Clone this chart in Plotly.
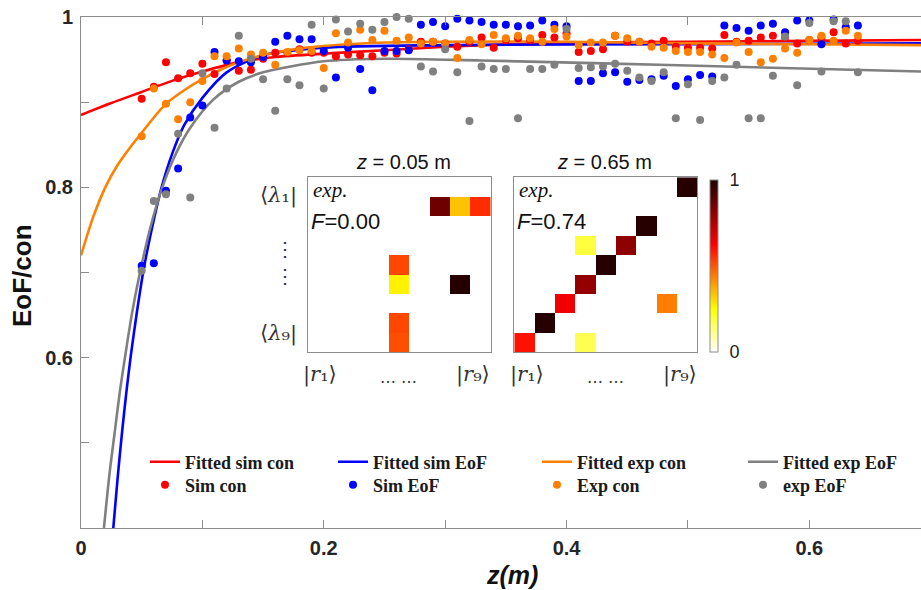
import plotly.graph_objects as go

# ---------------- data ----------------
z = [0.05, 0.06, 0.07, 0.08, 0.09, 0.10, 0.11, 0.12, 0.13, 0.14,
     0.15, 0.16, 0.17, 0.18, 0.19, 0.20, 0.21, 0.22, 0.23, 0.24,
     0.25, 0.26, 0.27, 0.28, 0.29, 0.30, 0.31, 0.32, 0.33, 0.34,
     0.35, 0.36, 0.37, 0.38, 0.39, 0.40, 0.41, 0.42, 0.43, 0.44,
     0.45, 0.46, 0.47, 0.48, 0.49, 0.50, 0.51, 0.52, 0.53, 0.54,
     0.55, 0.56, 0.57, 0.58, 0.59, 0.60, 0.61, 0.62, 0.63, 0.64]

sim_con = [0.904, 0.918, 0.947, 0.928, 0.934, 0.945, 0.933, 0.949, 0.937, 0.938,
           0.951, 0.958, 0.958, 0.962, 0.958, 0.958, 0.954, 0.956, 0.955, 0.954,
           0.958, 0.957, 0.962, 0.971, 0.971, 0.969, 0.965, 0.971, 0.976, 0.964,
           0.973, 0.975, 0.973, 0.979, 0.976, 0.981, 0.959, 0.960, 0.962, 0.978,
           0.971, 0.971, 0.969, 0.972, 0.965, 0.964, 0.964, 0.963, 0.979, 0.971,
           0.972, 0.976, 0.978, 0.976, 0.969, 0.973, 0.976, 0.982, 0.969, 0.972]

sim_eof = [0.708, 0.711, 0.796, 0.822, 0.882, 0.896, 0.959, 0.949, 0.948, 0.947,
           0.953, 0.971, 0.978, 0.974, 0.974, 0.960, 0.929, 0.964, 0.939, 0.914,
           0.960, 0.960, 0.961, 0.991, 0.994, 0.989, 0.998, 0.996, 0.994, 0.991,
           0.991, 0.989, 0.990, 0.996, 0.991, 0.989, 0.925, 0.925, 0.934, 0.935,
           0.924, 0.926, 0.927, 0.931, 0.919, 0.927, 0.932, 0.930, 0.990, 0.987,
           0.984, 0.990, 0.992, 0.982, 0.996, 0.996, 0.968, 0.997, 0.988, 0.990]

exp_con = [0.860, 0.916, 0.898, 0.880, 0.900, 0.925, 0.954, 0.954, 0.963, 0.956,
           0.958, 0.944, 0.959, 0.961, 0.960, 0.940, 0.981, 0.970, 0.985, 0.973,
           0.984, 0.972, 0.976, 0.969, 0.971, 0.969, 0.952, 0.973, 0.968, 0.979,
           0.975, 0.978, 0.975, 0.971, 0.986, 0.977, 0.967, 0.970, 0.970, 0.978,
           0.975, 0.971, 0.965, 0.964, 0.960, 0.959, 0.959, 0.956, 0.952, 0.970,
           0.959, 0.947, 0.951, 0.963, 0.958, 0.973, 0.978, 0.972, 0.984, 0.978]

exp_eof = [0.702, 0.784, 0.792, 0.863, 0.788, 0.934, 0.870, 0.916, 0.978, 0.951,
           0.927, 0.890, 0.927, 0.920, 0.991, 0.916, 0.997, 0.983, 0.992, 0.985,
           0.994, 1.000, 0.998, 0.942, 0.936, 0.962, 0.935, 0.878, 0.942, 0.939,
           0.939, 0.881, 0.939, 0.939, 0.944, 0.986, 0.940, 0.941, 0.942, 0.945,
           0.937, 0.929, 0.925, 0.935, 0.881, 0.921, 0.879, 0.925, 0.929, 0.944,
           0.881, 0.881, 0.931, 0.977, 0.920, 0.993, 0.936, 0.995, 0.995, 0.935]

# fitted curves, sampled along the drawn lines
fit_z_sim_con = [0, 0.025, 0.05, 0.075, 0.1, 0.13, 0.16, 0.2, 0.25, 0.3, 0.35, 0.42, 0.5, 0.6, 0.692]
fit_sim_con = [0.885, 0.899, 0.912, 0.925, 0.936, 0.947, 0.953, 0.957, 0.961, 0.965, 0.968, 0.970, 0.971, 0.972, 0.973]

fit_z_sim_eof = [0.0266, 0.030, 0.034, 0.0375, 0.041, 0.046, 0.0513, 0.058, 0.0664, 0.075, 0.085,
                 0.1, 0.12, 0.15, 0.2, 0.3, 0.5, 0.692]
fit_sim_eof = [0.400, 0.456, 0.515, 0.561, 0.602, 0.653, 0.701, 0.749, 0.800, 0.839, 0.873,
               0.905, 0.935, 0.955, 0.964, 0.967, 0.968, 0.969]

fit_z_exp_con = [0, 0.01, 0.02, 0.03, 0.04, 0.05, 0.06, 0.07, 0.085, 0.1, 0.115, 0.13, 0.15,
                 0.175, 0.2, 0.25, 0.3, 0.4, 0.5, 0.6, 0.692]
fit_exp_con = [0.720, 0.765, 0.800, 0.826, 0.846, 0.864, 0.882, 0.898, 0.914, 0.927, 0.938, 0.947, 0.955,
               0.962, 0.966, 0.970, 0.971, 0.971, 0.969, 0.968, 0.967]

fit_z_exp_eof = [0.0189, 0.0235, 0.028, 0.032, 0.0362, 0.042, 0.0486, 0.057, 0.067, 0.078, 0.09,
                 0.109, 0.13, 0.15, 0.2, 0.25, 0.33, 0.5, 0.692]
fit_exp_eof = [0.400, 0.464, 0.515, 0.560, 0.600, 0.652, 0.700, 0.752, 0.800, 0.839, 0.870,
               0.903, 0.924, 0.935, 0.948, 0.951, 0.949, 0.943, 0.936]

# inset matrices (rows <lambda_1| .. <lambda_9|, columns |r_1> .. |r_9>)
mat_005 = [
    [0, 0, 0, 0, 0, 0, 0, 0, 0],
    [0, 0, 0, 0, 0, 0, 0.86, 0.34, 0.56],
    [0, 0, 0, 0, 0, 0, 0, 0, 0],
    [0, 0, 0, 0, 0, 0, 0, 0, 0],
    [0, 0, 0, 0, 0.52, 0, 0, 0, 0],
    [0, 0, 0, 0, 0.27, 0, 0, 0.98, 0],
    [0, 0, 0, 0, 0, 0, 0, 0, 0],
    [0, 0, 0, 0, 0.52, 0, 0, 0, 0],
    [0, 0, 0, 0, 0.51, 0, 0, 0, 0],
]
mat_065 = [
    [0, 0, 0, 0, 0, 0, 0, 0, 0.98],
    [0, 0, 0, 0, 0, 0, 0, 0, 0],
    [0, 0, 0, 0, 0, 0, 0.98, 0, 0],
    [0, 0, 0, 0.19, 0, 0.81, 0, 0, 0],
    [0, 0, 0, 0, 0.98, 0, 0, 0, 0],
    [0, 0, 0, 0.80, 0, 0, 0, 0, 0],
    [0, 0, 0.65, 0, 0, 0, 0, 0.44, 0],
    [0, 0.98, 0, 0, 0, 0, 0, 0, 0],
    [0.60, 0, 0, 0.17, 0, 0, 0, 0, 0],
]
fidelity_labels = ["<i>F</i>=0.00", "<i>F</i>=0.74"]
inset_titles = ["<i>z</i> = 0.05 m", "<i>z</i> = 0.65 m"]

x_tickvals = [0, 0.2, 0.4, 0.6]
x_ticktext = ["0", "0.2", "0.4", "0.6"]
x_minor = [0.1, 0.3, 0.5]
y_tickvals = [0.6, 0.8, 1.0]
y_ticktext = ["0.6", "0.8", "1"]
y_minor = [0.5, 0.7, 0.9]

# ---------------- styling ----------------
RED, BLUE, ORANGE, GRAY = "#ff0000", "#0000ff", "#ff8000", "#808080"
AXC = "#8c8c8c"
W, H = 921, 590
ML, MR, MT, MB = 81, 0, 17, 62
PW, PH = W - ML - MR, H - MT - MB


def px(xp):
    return (xp - ML) / PW


def py(yp):
    return (H - MB - yp) / PH


fig = go.Figure()

# legend slot per entry: left x of each column, centre y of each row
col_x = [145, 333, 537, 743]
row_y = [462, 485]

lines = [
    (fit_z_sim_con, fit_sim_con, RED, "Fitted sim con"),
    (fit_z_sim_eof, fit_sim_eof, BLUE, "Fitted sim EoF"),
    (fit_z_exp_con, fit_exp_con, ORANGE, "Fitted exp con"),
    (fit_z_exp_eof, fit_exp_eof, GRAY, "Fitted exp EoF"),
]
pts = [
    (sim_con, RED, "Sim con"),
    (sim_eof, BLUE, "Sim EoF"),
    (exp_con, ORANGE, "Exp con"),
    (exp_eof, GRAY, "exp EoF"),
]

legend_common = dict(orientation="v", yanchor="middle", xanchor="left", bgcolor="rgba(0,0,0,0)",
                     font=dict(family="Liberation Serif, Times New Roman, serif", size=18,
                               color="#1a1a1a", weight="bold"),
                     tracegroupgap=0, itemclick=False, itemdoubleclick=False)
legend_layout = {}


def legend_name(i):
    return "legend" if i == 0 else "legend%d" % (i + 1)


for i, (xs, ys, c, n) in enumerate(lines):
    lg = legend_name(i)
    legend_layout[lg] = dict(legend_common, x=px(col_x[i]), y=py(row_y[0]))
    fig.add_trace(go.Scatter(x=xs, y=ys, mode="lines", name=n, legend=lg,
                             line=dict(color=c, width=2.6, shape="spline", smoothing=0.8)))

for i, (ys, c, n) in enumerate(pts):
    lg = legend_name(i + 4)
    legend_layout[lg] = dict(legend_common, x=px(col_x[i]), y=py(row_y[1]))
    fig.add_trace(go.Scatter(x=z, y=ys, mode="markers", name=n, legend=lg, cliponaxis=False,
                             marker=dict(color=c, size=8, line=dict(width=0))))

cscale = [[0.0, "#ffffff"], [0.25, "#ffff00"], [0.625, "#ff0000"], [1.0, "#1a0000"]]
fig.add_trace(go.Heatmap(z=mat_005, xaxis="x2", yaxis="y2", coloraxis="coloraxis",
                         showlegend=False, hoverinfo="skip"))
fig.add_trace(go.Heatmap(z=mat_065, xaxis="x3", yaxis="y3", coloraxis="coloraxis",
                         showlegend=False, hoverinfo="skip"))

tickfont = dict(family="Liberation Sans, Arial, sans-serif", size=20, color="#262626", weight="bold")

inset_axis = dict(range=[-0.5, 8.5], showline=True, linecolor=AXC, linewidth=1, mirror=True,
                  showticklabels=False, ticks="", showgrid=False, zeroline=False, fixedrange=True)
inset_yaxis = dict(inset_axis, range=[8.5, -0.5])

x_left = [px(307.7), px(490.7)]
x_right = [px(514.3), px(697.3)]
y_dom = [py(352.3), py(177.3)]

fig.update_layout(
    width=W, height=H,
    margin=dict(l=ML, r=MR, t=MT, b=MB),
    paper_bgcolor="white", plot_bgcolor="white",
    xaxis=dict(range=[0, 0.692], showline=True, linecolor=AXC, linewidth=1, mirror="ticks",
               ticks="inside", ticklen=8, tickcolor=AXC, tickvals=x_tickvals, ticktext=x_ticktext,
               minor=dict(tickvals=x_minor, ticks="inside", ticklen=8, tickcolor=AXC, showgrid=False),
               tickfont=tickfont, showgrid=False, zeroline=False, ticklabelstandoff=2),
    yaxis=dict(range=[0.4, 1.0], showline=True, linecolor=AXC, linewidth=1,
               ticks="inside", ticklen=8, tickcolor=AXC, tickvals=y_tickvals, ticktext=y_ticktext,
               minor=dict(tickvals=y_minor, ticks="inside", ticklen=8, tickcolor=AXC, showgrid=False),
               tickfont=tickfont, showgrid=False, zeroline=False, ticklabelstandoff=3),
    xaxis2=dict(inset_axis, domain=x_left, anchor="y2"),
    yaxis2=dict(inset_yaxis, domain=y_dom, anchor="x2"),
    xaxis3=dict(inset_axis, domain=x_right, anchor="y3"),
    yaxis3=dict(inset_yaxis, domain=y_dom, anchor="x3"),
    coloraxis=dict(colorscale=cscale, cmin=0, cmax=1,
                   colorbar=dict(x=px(710), xanchor="left", y=py(266), yanchor="middle",
                                 xref="paper", yref="paper", xpad=0, ypad=0,
                                 len=172, lenmode="pixels", thickness=8,
                                 outlinecolor=AXC, outlinewidth=1,
                                 tickvals=[0, 1], ticktext=["0", "1"], ticks="outside",
                                 ticklen=8, tickcolor="rgba(0,0,0,0)",
                                 tickfont=dict(family="Liberation Sans, Arial, sans-serif",
                                               size=18, color="#222"))),
    showlegend=True,
    **legend_layout,
)

sans = "Liberation Sans, Arial, sans-serif"
serif = "DejaVu Serif, Liberation Serif, serif"


def label(text, xp, yp, xanchor="center", size=20, family=serif, color="#333", **kw):
    return dict(text=text, xref="paper", yref="paper", x=px(xp), y=py(yp), xanchor=xanchor,
                yanchor="middle", showarrow=False, font=dict(family=family, size=size, color=color), **kw)


ann = [
    label("<b><i>z(m)</i></b>", 512, 575, size=25, family=sans, color="#111"),
    label("<b>EoF/con</b>", 22, 276, size=26, family=sans, color="#111", textangle=-90),
    # inset 1
    label(inset_titles[0], 403, 162, family=sans, color="#111"),
    label("<i>exp.</i>", 311, 190, xanchor="left", size=21, family="Liberation Serif, serif", color="#111"),
    label(fidelity_labels[0], 309, 221, xanchor="left", size=22, family=sans, color="#111"),
    label("⟨<i>λ</i>₁|", 299, 195, xanchor="right", size=21),
    label("⋮", 285, 249),
    label("⋮", 285, 276),
    label("⟨<i>λ</i>₉|", 299, 333, xanchor="right", size=21),
    label("|<i>r</i>₁⟩", 320, 374, size=21),
    label("… …", 398, 377, size=16),
    label("|<i>r</i>₉⟩", 473, 374, size=21),
    # inset 2
    label(inset_titles[1], 604, 162, family=sans, color="#111"),
    label("<i>exp.</i>", 517, 190, xanchor="left", size=21, family="Liberation Serif, serif", color="#111"),
    label(fidelity_labels[1], 515, 221, xanchor="left", size=22, family=sans, color="#111"),
    label("|<i>r</i>₁⟩", 527, 374, size=21),
    label("… …", 605, 377, size=16),
    label("|<i>r</i>₉⟩", 680, 374, size=21),
]

fig.update_layout(annotations=ann)
fig.write_html("out.html", config={"displayModeBar": False},
               post_script="document.body.style.margin='0px';")
